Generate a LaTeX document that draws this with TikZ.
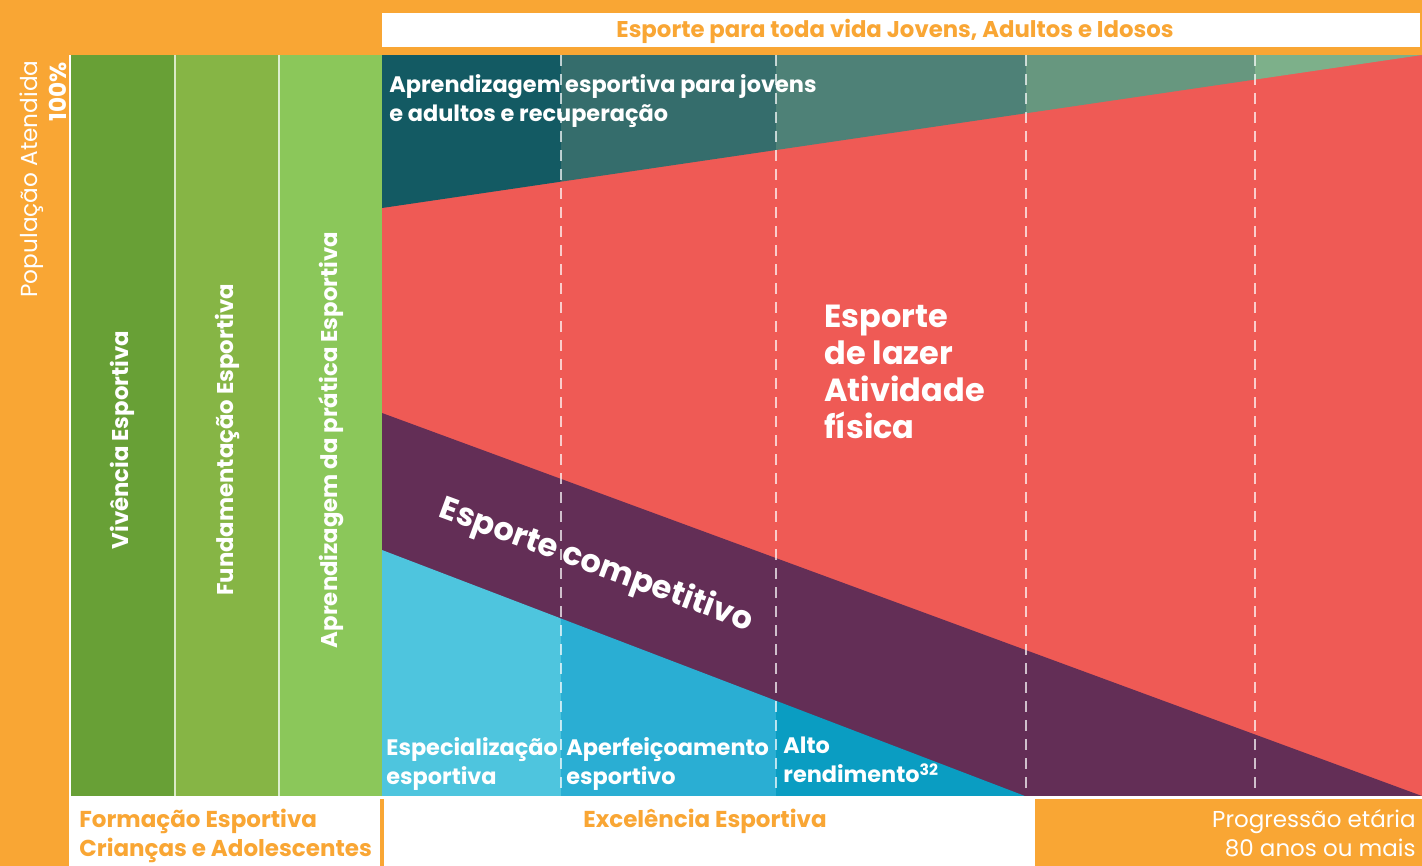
\documentclass[tikz,border=0pt]{standalone}
\usepackage{fontspec}
\setmainfont{Poppins}
\usepackage{xcolor}
\usetikzlibrary{positioning}

\definecolor{laranja}{HTML}{F9A634}
\definecolor{verdeA}{HTML}{68A036}
\definecolor{verdeB}{HTML}{86B545}
\definecolor{verdeC}{HTML}{8BC75A}
\definecolor{vermelho}{HTML}{EF5A55}
\definecolor{roxo}{HTML}{632E56}
\definecolor{tealA}{HTML}{135A63}
\definecolor{tealB}{HTML}{356D6C}
\definecolor{tealC}{HTML}{4E8177}
\definecolor{tealD}{HTML}{67977F}
\definecolor{tealE}{HTML}{7DB08A}
\definecolor{cianoA}{HTML}{4EC5DE}
\definecolor{cianoB}{HTML}{2AAED3}
\definecolor{cianoC}{HTML}{0A9DC2}

\tikzset{
  rotulo/.style={text=laranja, font=\fontsize{11.4}{14.5}\selectfont\bfseries, inner sep=0pt},
  faixa/.style={text=white, font=\fontsize{11.2}{14.5}\selectfont\bfseries, inner sep=0pt, align=left},
  grande/.style={text=white, font=\fontsize{16}{18.5}\selectfont\bfseries, inner sep=0pt, align=left},
  coluna/.style={text=white, font=\fontsize{11.4}{14}\selectfont\bfseries, inner sep=0pt, rotate=90},
  tracejado/.style={white, opacity=0.7, line width=0.8pt, dash pattern=on 5.5pt off 4pt}
}

\begin{document}
\begin{tikzpicture}[x=0.5pt,y=-0.5pt]
        \useasboundingbox (0,0) rectangle (1422,866);

        % Fundo
        \fill[laranja] (0,0) rectangle (1422,866);
        \fill[white] (382,13) rectangle (1420,47);
        \node[rotulo] (topo) at (895,31) {Esporte para toda vida Jovens, Adultos e Idosos};

        % Eixo vertical
        \node[text=white, font=\fontsize{11.6}{13}\selectfont, rotate=90, anchor=east, inner sep=0pt] (pop) at (32,60) {População Atendida};
        \node[text=white, font=\fontsize{11.6}{13}\selectfont\bfseries, rotate=90, anchor=east, inner sep=0pt] (cem) at (58,62) {100\%};

        % Colunas de formacao
        \fill[white] (69,55) rectangle (382,799);
        \foreach \xa/\xb/\cor/\nome/\texto in {71/174/verdeA/viv/{Vivência Esportiva},
            176/278/verdeB/fund/{Fundamentação Esportiva},
            280/382/verdeC/apr/{Aprendizagem da prática Esportiva}} {
            \fill[\cor] (\xa,55) rectangle (\xb,796);
            \node[coluna] (\nome) at ({(\xa+\xb)/2},440) {\texto};
        }
        \fill[white!70!verdeB] (174,55) rectangle (176,796);
        \fill[white!70!verdeC] (278,55) rectangle (280,796);

        % Areas
        \fill[vermelho] (382,55) rectangle (1422,796);
        \begin{scope}
            \clip (382,55) -- (1422,55) -- (382,208) -- cycle;
            \foreach \xa/\xb/\cor in {382/561/tealA, 561/776/tealB, 776/1026/tealC, 1026/1255/tealD, 1255/1422/tealE}
                \fill[\cor] (\xa,55) rectangle (\xb,208);
        \end{scope}
        \fill[roxo] (382,413) -- (1422,796) -- (382,796) -- cycle;
        \begin{scope}
            \clip (382,550) -- (1025,796) -- (382,796) -- cycle;
            \foreach \xa/\xb/\cor in {382/561/cianoA, 561/776/cianoB, 776/1025/cianoC}
                \fill[\cor] (\xa,550) rectangle (\xb,796);
        \end{scope}

        % Divisoes de idade
        \foreach \x in {561,776,1026,1255}
            \draw[tracejado] (\x,55) -- (\x,796);

        % Textos das areas
        \node[faixa, anchor=north west] (aprend) at (389,74) {Aprendizagem esportiva para jovens\\e adultos e recuperação};
        \node[grande, anchor=north west] (lazer) at (824,305) {Esporte\\de lazer\\Atividade\\física};
        \node[grande, rotate=-20.2] (compet) at (596,566) {Esporte competitivo};
        \node[faixa, anchor=north west] (espec) at (386,737) {Especialização\\esportiva};
        \node[faixa, anchor=north west] (aperf) at (566,737) {Aperfeiçoamento\\esportivo};
        \node[faixa, anchor=north west] (alto) at (783,737) {Alto\\rendimento\textsuperscript{32}};

        % Rodape
        \fill[white] (69,796) rectangle (1422,799);
        \fill[white] (69,799) rectangle (380,866);
        \fill[white] (384,799) rectangle (1035,866);
        \node[rotulo, anchor=north west, align=left, font=\fontsize{11.5}{14.5}\selectfont\bfseries] (form) at (79,809) {Formação Esportiva\\Crianças e Adolescentes};
        \node[rotulo, font=\fontsize{11.5}{14.5}\selectfont\bfseries] (excel) at (705,821) {Excelência Esportiva};
        \node[text=white, anchor=north east, align=right, inner sep=0pt, font=\fontsize{11.5}{14.5}\selectfont] (prog) at (1416,809) {Progressão etária\\80 anos ou mais};
    \end{tikzpicture}
\end{document}
